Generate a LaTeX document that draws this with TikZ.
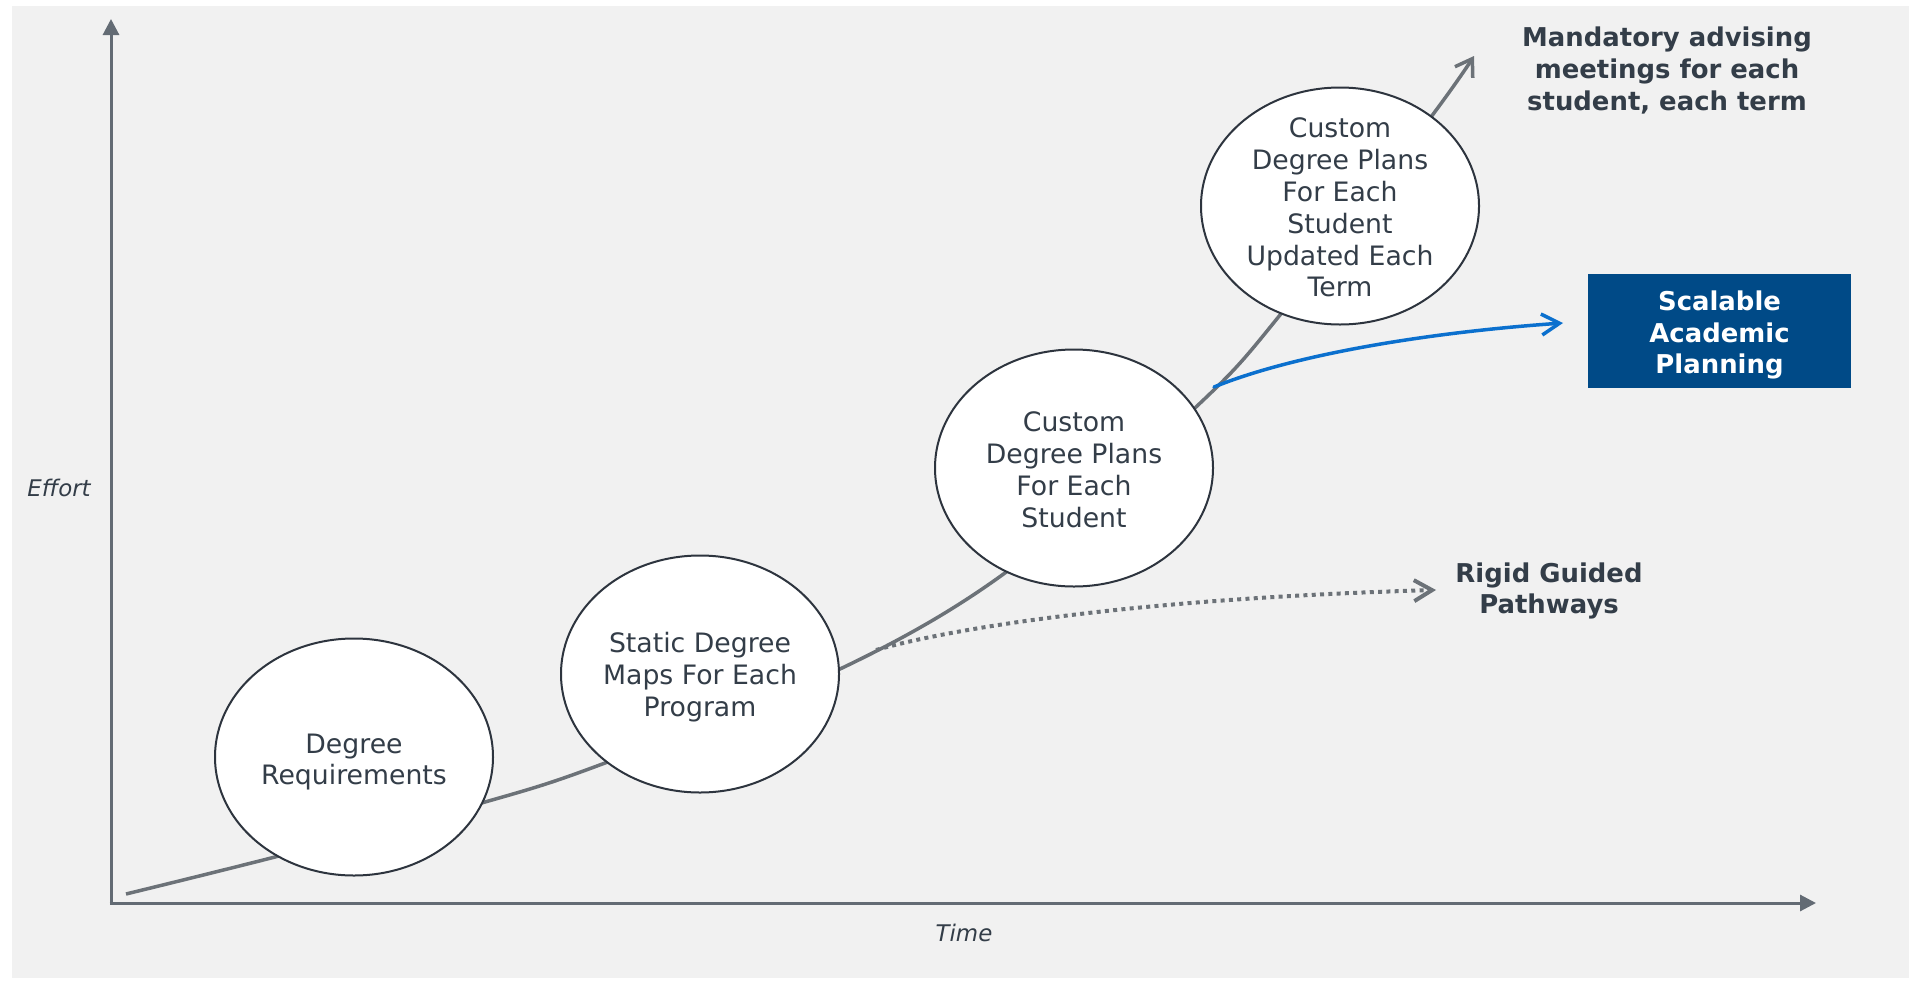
\documentclass[tikz,border=0pt]{standalone}
\usepackage{fontspec}
\setmainfont{DejaVu Sans}
\usetikzlibrary{shapes.geometric,arrows.meta}
\definecolor{bggray}{RGB}{241,241,241}
\definecolor{axisgray}{RGB}{99,107,116}
\definecolor{curvegray}{RGB}{108,114,120}
\definecolor{txtdark}{RGB}{51,61,72}
\definecolor{ellborder}{RGB}{45,52,62}
\definecolor{planblue}{RGB}{11,112,206}
\definecolor{navyfill}{RGB}{0,74,135}
\begin{document}
\begin{tikzpicture}[x=1bp,y=-1bp,
  axisline/.style={draw=axisgray,line width=3bp,-{Triangle[length=16bp,width=16bp]}},
  axislabel/.style={text=txtdark,font=\fontsize{23}{28}\selectfont\itshape,inner sep=0pt},
  bubble/.style={ellipse,draw=ellborder,fill=white,line width=2bp,minimum width=278bp,minimum height=237bp,inner sep=0pt},
  bubbletext/.style={align=center,text=txtdark,font=\fontsize{26.8}{32}\selectfont,inner sep=0pt},
  growth/.style={draw=curvegray,line width=3.5bp,-{Straight Barb[length=16bp,width=21bp]}},
  outcome/.style={align=center,text=txtdark,font=\fontsize{26}{32}\selectfont\bfseries,inner sep=0pt},
  bluepath/.style={draw=planblue,line width=3.5bp,line cap=round,-{Straight Barb[length=18bp,width=21bp]}},
  dotpath/.style={draw=curvegray,line width=4bp,dash pattern=on 4bp off 4.3bp,-{Straight Barb[length=18bp,width=21bp]}},
  planbox/.style={fill=navyfill,text=white,align=center,minimum width=263bp,minimum height=114bp,inner sep=0pt,font=\fontsize{26}{32}\selectfont\bfseries}
]
\useasboundingbox (0,0) rectangle (1915,981);
\fill[bggray] (12,6) rectangle (1909,978);

% axes
\coordinate (origin) at (111,903);
\coordinate (ytip) at (111,19);
\coordinate (xtip) at (1816,903);
\draw[axisline] (origin) -- (ytip);
\draw[axisline] ([xshift=-1.5bp]origin) -- (xtip);
\node[axislabel] (effort) at (59,488) {Effort};
\node[axislabel] (time) at (964,933) {Time};

% growth curve (behind the bubbles)
\draw[growth] plot[smooth,tension=0.55] coordinates {(126,894) (275,857) (485,802) (605,763) (840,669) (1009,570) (1196,407) (1280,315) (1431,117) (1474,56)};

% branch curves
\coordinate (bluestart) at (1214,387);
\coordinate (blueend) at (1563,323);
\draw[bluepath] (bluestart) .. controls (1290,356) and (1420,333) .. (blueend);
\coordinate (dotstart) at (876,650);
\coordinate (dotend) at (1436,590);
\draw[dotpath] (dotstart) .. controls (960,626) and (1150,598) .. (dotend);

% bubbles
\node[bubble] (e1) at (354,757) {};
\node[bubbletext] (t1) at ([yshift=-5bp]e1.center) {Degree\\Requirements};
\node[bubble] (e2) at (700,674) {};
\node[bubbletext] (t2) at ([yshift=-3.5bp]e2.center) {Static Degree\\Maps For Each\\Program};
\node[bubble] (e3) at (1074,468) {};
\node[bubbletext] (t3) at ([yshift=-1.5bp]e3.center) {Custom\\Degree Plans\\For Each\\Student};
\node[bubble] (e4) at (1340,206) {};
\node[bubbletext] (t4) at ([yshift=-1.5bp]e4.center) {Custom\\Degree Plans\\For Each\\Student\\Updated Each\\Term};

% outcomes
\node[outcome] (mand) at (1667,70.5) {Mandatory advising\\meetings for each\\student, each term};
\node[planbox] (plan) at (1719.5,331) {};
\node[outcome,text=white] (plantext) at ([yshift=-4bp]plan.center) {Scalable\\Academic\\Planning};
\node[outcome] (rigid) at (1549,591) {Rigid Guided\\Pathways};
\end{tikzpicture}
\end{document}
